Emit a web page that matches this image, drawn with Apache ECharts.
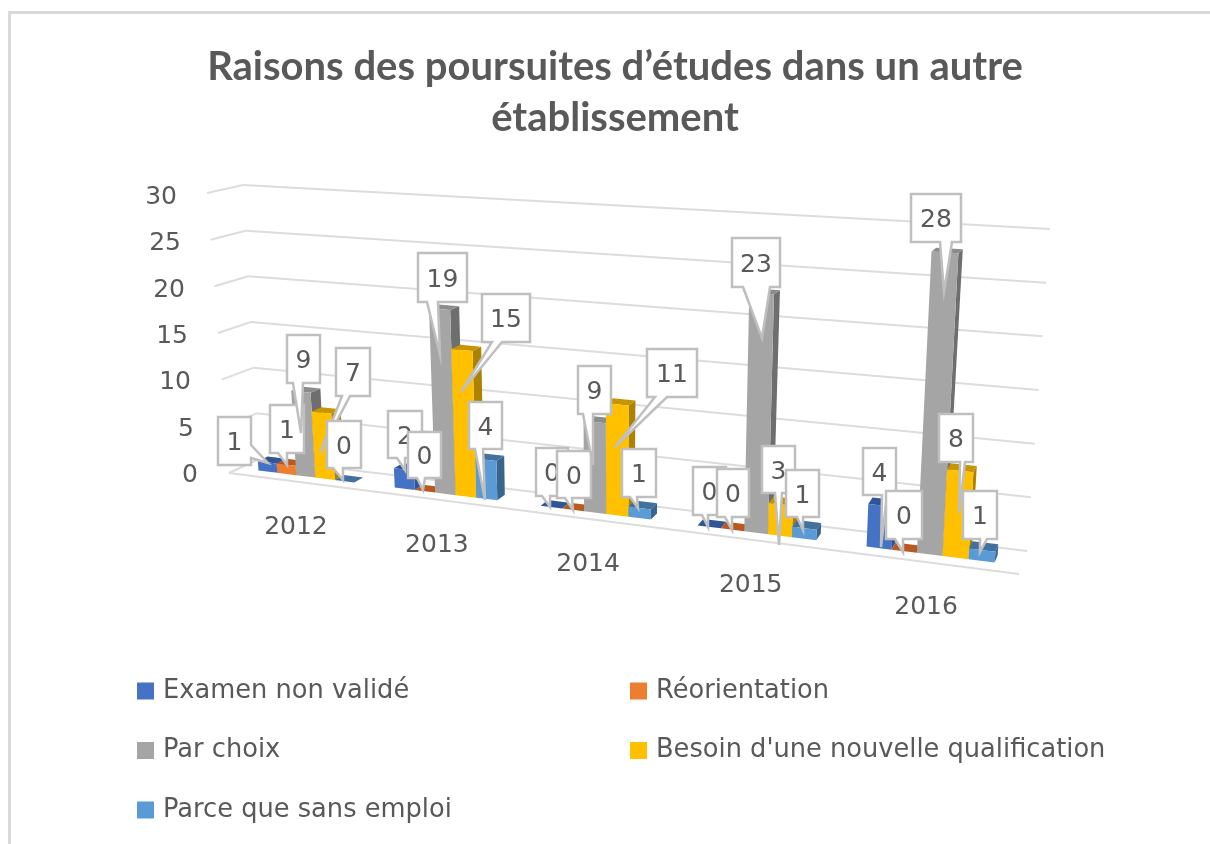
<!DOCTYPE html>
<html><head><meta charset="utf-8">
<style>html,body{margin:0;padding:0;background:#fff}#c{width:1210px;height:844px}</style>
<script src="https://cdn.jsdelivr.net/npm/echarts@6/dist/echarts.min.js"></script>
</head><body><div id="c"></div>
<script>
// ---- data ----
const categories = ['2012','2013','2014','2015','2016'];
const seriesNames = ['Examen non validé','Réorientation','Par choix',"Besoin d'une nouvelle qualification",'Parce que sans emploi'];
const examen = [1,2,0,0,4];
const reorientation = [1,0,0,0,0];
const parChoix = [9,19,9,23,28];
const besoin = [7,15,11,3,8];
const sansEmploi = [0,4,1,1,1];
const yTicks = [0,5,10,15,20,25,30];
const allValues = [examen,reorientation,parChoix,besoin,sansEmploi];

// ---- style ----
const fontFamily = '"DejaVu Sans", sans-serif';
const titleFont = 'Lato, sans-serif';
const textColor = '#595959';
const gridColor = '#DCDCDC';
const front = ['#4472C4','#ED7D31','#A5A5A5','#FFC000','#5B9BD5'];
const topFace = ['#2F5597','#B9591F','#8C8C8C','#C69500','#41719C'];
const sideFace = ['#2F5597','#B9591F','#6E6E6E','#AD8200','#38658C'];

// ---- perspective of the 3D box (corners as seen in the picture) ----
const GL = 229, GT = 195, GW = 790, GH = 278;
const corners = {
  f00:[229,473], f10:[1019,574], f01:[207,193], f11:[1039,240],
  b00:[259,459], b10:[1027,551], b01:[243,185], b11:[1050,229]
};
const PERSP = 1.2, D0 = 0.35, D1 = 0.68, CLUSTER = 0.71;
function lerp(a,b,t){return [a[0]+(b[0]-a[0])*t, a[1]+(b[1]-a[1])*t];}
// flat grid pixel -> perspective pixel; d is depth 0..1
function project(p,d){
  const u=(p[0]-GL)/GW, v=(GT+GH-p[1])/GH;
  const t=u/(u+(1-u)*PERSP);
  const F=lerp(lerp(corners.f00,corners.f10,t),lerp(corners.f01,corners.f11,t),v);
  const B=lerp(lerp(corners.b00,corners.b10,t),lerp(corners.b01,corners.b11,t),v);
  return lerp(F,B,d);
}

// ---- callout placement: [boxX, boxY, boxW, boxH, tipX, tipY, baseA, baseB, side] ----
const calloutsExamen = [
  [218,417,33,48,268,463,445,458,'r'],[388,411,34,47,405,470,397,405],[536,448,32,48,550,507,542,550],
  [693,467,33,48,708,527,702,708],[863,448,33,47,881,547,882,887]];
const calloutsReorientation = [
  [270,405,34,48,287,465,278,287],[408,432,33,46,423,490,417,425],[557,451,34,47,573,510,565,572],
  [717,469,32,48,732,530,725,732],[886,491,36,48,903,552,895,903]];
const calloutsParChoix = [
  [287,335,33,48,301,433,293,303],[418,253,49,49,440,355,427,438],[578,366,33,48,593,465,583,593],
  [732,238,48,49,762,338,743,770],[911,194,50,48,944,292,940,952]];
const calloutsBesoin = [
  [336,348,34,48,320,453,342,350],[482,294,48,48,461,392,492,502],[647,349,50,48,615,447,655,667],
  [762,446,33,47,779,545,775,782],[939,414,34,48,959,513,960,965]];
const calloutsSansEmploi = [
  [327,421,34,47,343,480,333,343],[469,402,33,47,485,500,475,483],[622,449,34,48,638,508,630,637],
  [786,470,33,47,803,530,797,803],[963,491,34,48,980,552,980,987]];
const calloutLayouts = [calloutsExamen,calloutsReorientation,calloutsParChoix,calloutsBesoin,calloutsSansEmploi];

// y-axis labels follow the slanted wall: extra right padding per value
const yLabelPad = {0:0,5:4,10:7,15:10,20:13,25:17,30:21};
const yRich = {};
yTicks.forEach(v=>{yRich['v'+v]={fontFamily,fontSize:25,color:textColor,padding:[5,yLabelPad[v],0,0]};});

function barItem(s){
  return function(params,api){
    const i=api.value(0), val=api.value(1);
    const base=api.coord([i,0]), top=api.coord([i,val]);
    const band=api.size([1,0])[0];
    const w=band*CLUSTER/5;
    const l=base[0]+(s-2.5)*w, r=l+w;
    const A=(x,y,d)=>project([x,y],d);
    const fbl=A(l,base[1],D0), fbr=A(r,base[1],D0), ftl=A(l,top[1],D0), ftr=A(r,top[1],D0);
    const bbr=A(r,base[1],D1), btl=A(l,top[1],D1), btr=A(r,top[1],D1);
    return {type:'group',children:[
      {type:'polygon',shape:{points:[fbr,bbr,btr,ftr]},style:{fill:sideFace[s]}},
      {type:'polygon',shape:{points:[ftl,ftr,btr,btl]},style:{fill:topFace[s]}},
      {type:'polygon',shape:{points:[fbl,fbr,ftr,ftl]},style:{fill:front[s]}}
    ]};
  };
}

const wallData = yTicks.map(v=>[0,v]);
function wallItem(params,api){
  const v=api.value(1);
  const y=api.coord([0,v])[1];
  const ln=(a,b,w)=>({type:'line',shape:{x1:a[0],y1:a[1],x2:b[0],y2:b[1]},style:{stroke:gridColor,lineWidth:w}});
  const kids=[ln(project([GL,y],0),project([GL,y],1),2),ln(project([GL,y],1),project([GL+GW,y],1),2)];
  if(v===0) kids.push(ln(project([GL,y],0),project([GL+GW,y],0),2));
  return {type:'group',children:kids};
}

function catLabelItem(params,api){
  const i=api.value(0);
  const p=project(api.coord([i,0]),0);
  return {type:'text',style:{text:categories[i],x:p[0],y:p[1]+45.5,align:'center',verticalAlign:'middle',
    fontFamily,fontSize:25,fill:textColor}};
}

const calloutData=[];
allValues.forEach((vals,s)=>vals.forEach((v,i)=>calloutData.push([i,v,s])));
function calloutItem(params,api){
  const i=api.value(0), v=api.value(1), s=api.value(2);
  const [x,y,w,h,tx,ty,a,b,side]=calloutLayouts[s][i];
  const pts = side==='r'
    ? [[x,y],[x+w,y],[x+w,a],[tx,ty],[x+w,b],[x+w,y+h],[x,y+h]]
    : [[x,y],[x+w,y],[x+w,y+h],[b,y+h],[tx,ty],[a,y+h],[x,y+h]];
  return {type:'group',children:[
    {type:'polygon',shape:{points:pts},style:{fill:'#fff',stroke:'#BFBFBF',lineWidth:2.5,lineJoin:'miter'}},
    {type:'text',style:{text:String(v),x:x+w/2,y:y+h/2+2.5,align:'center',verticalAlign:'middle',
      fontFamily,fontSize:25,fill:textColor}}
  ]};
}

const chart=echarts.init(document.getElementById('c'));
const series=[
  {type:'custom',name:'wall',silent:true,z:1,clip:false,renderItem:wallItem,data:wallData,encode:{x:0,y:1}}
];
allValues.forEach((vals,s)=>series.push({
  type:'custom',name:seriesNames[s],silent:true,z:2,clip:false,renderItem:barItem(s),
  itemStyle:{color:front[s]},encode:{x:0,y:1},
  data:vals.map((v,i)=>[i,v])
}));
series.push({type:'custom',name:'labels',silent:true,z:3,clip:false,renderItem:catLabelItem,
  data:categories.map((c,i)=>[i,0]),encode:{x:0,y:1}});
series.push({type:'custom',name:'callouts',silent:true,z:4,clip:false,renderItem:calloutItem,
  data:calloutData,encode:{x:0,y:1}});

const legendCommon={orient:'vertical',itemWidth:17,itemHeight:17,itemGap:33.5,icon:'rect',top:673,height:170,selectedMode:false,
  textStyle:{fontFamily,fontSize:25.7,color:textColor,padding:[0,0,0,4]}};

chart.setOption({
  animation:false,
  backgroundColor:'#fff',
  title:{text:'Raisons des poursuites d’études dans un autre\nétablissement',left:610,top:37,textAlign:'center',
    textStyle:{fontFamily:titleFont,fontSize:40,fontWeight:'bold',color:textColor,lineHeight:51}},
  legend:[
    Object.assign({},legendCommon,{left:132,data:[seriesNames[0],seriesNames[2],seriesNames[4]]}),
    Object.assign({},legendCommon,{left:625,data:[seriesNames[1],seriesNames[3]]})
  ],
  grid:{left:GL,top:GT,width:GW,height:GH},
  xAxis:{type:'category',data:categories,show:false},
  yAxis:{type:'value',min:0,max:30,interval:5,
    axisLine:{show:false},axisTick:{show:false},splitLine:{show:false},
    axisLabel:{margin:31,align:'right',formatter:v=>'{v'+v+'|'+v+'}',rich:yRich}},
  series,
  graphic:[{type:'polyline',silent:true,z:-1,shape:{points:[[9.5,844],[9.5,12.5],[1210,12.5]]},
    style:{fill:'none',stroke:'#D9D9D9',lineWidth:3}}]
});
</script></body></html>
